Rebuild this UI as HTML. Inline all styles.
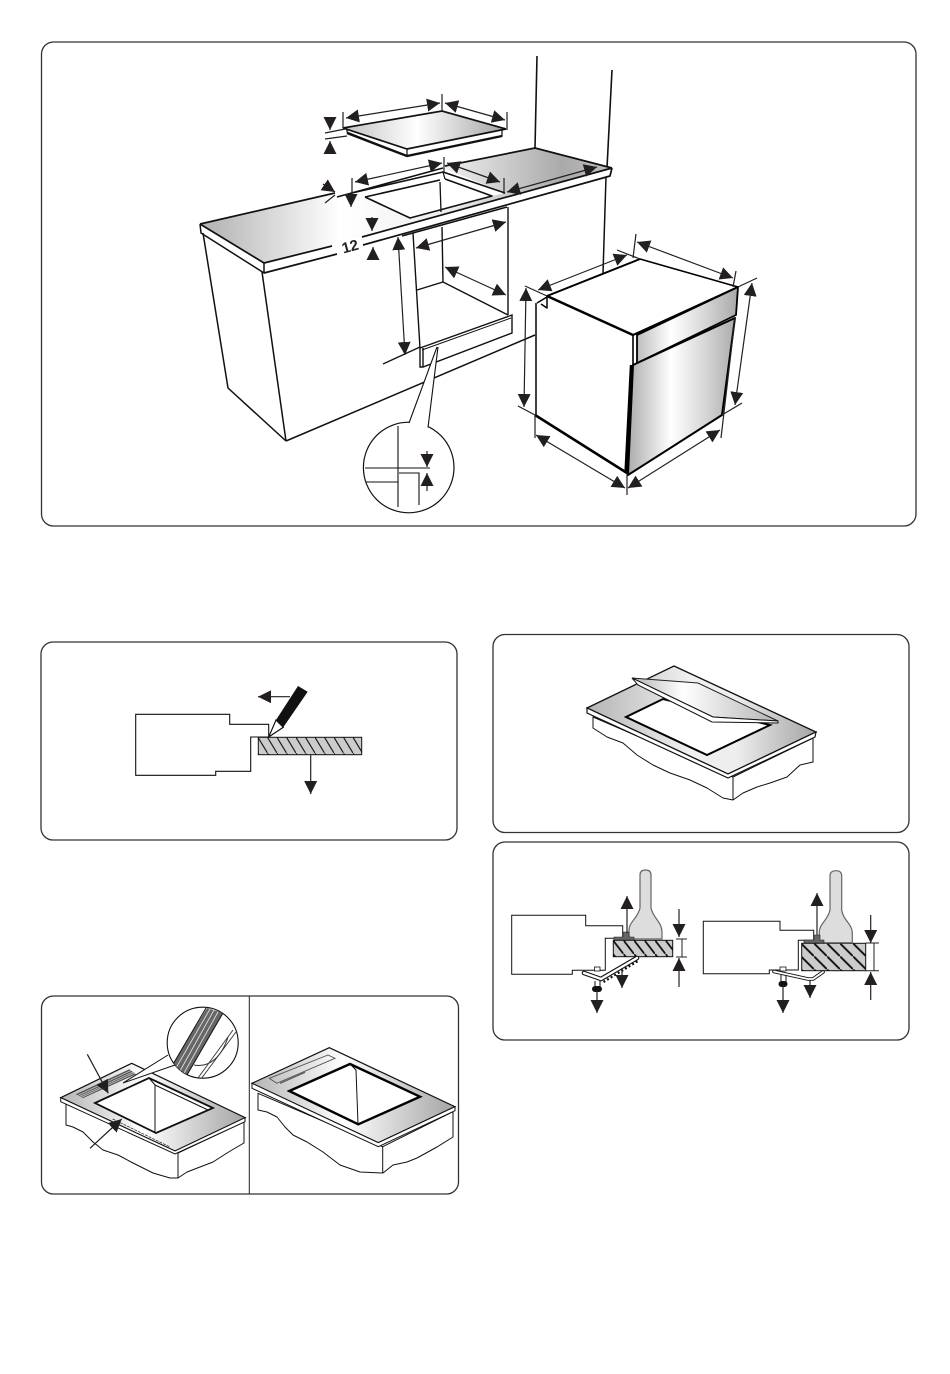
<!DOCTYPE html>
<html><head><meta charset="utf-8"><style>
html,body{margin:0;padding:0;background:#fff}
svg{display:block}
text{font-family:"Liberation Sans",sans-serif}
</style></head><body>
<svg width="950" height="1374" viewBox="0 0 950 1374" xmlns="http://www.w3.org/2000/svg">
<defs>
<marker id="a" viewBox="0 0 12 12" markerUnits="userSpaceOnUse" markerWidth="13" markerHeight="13" refX="12" refY="6" orient="auto-start-reverse"><path d="M0,0L12,6L0,12z" fill="#231f20"/></marker>
<linearGradient id="gw" gradientUnits="userSpaceOnUse" x1="200" y1="0" x2="612" y2="0"><stop offset="0" stop-color="#b0b0b0"/><stop offset=".34" stop-color="#fff"/><stop offset=".6" stop-color="#eee"/><stop offset=".88" stop-color="#aaa"/><stop offset="1" stop-color="#c0c0c0"/></linearGradient>
<linearGradient id="gh" gradientUnits="userSpaceOnUse" x1="345" y1="0" x2="505" y2="0"><stop offset="0" stop-color="#c4c4c4"/><stop offset=".45" stop-color="#fff"/><stop offset="1" stop-color="#a4a4a4"/></linearGradient>
<linearGradient id="gd" gradientUnits="userSpaceOnUse" x1="630" y1="0" x2="738" y2="0"><stop offset="0" stop-color="#b0b0b0"/><stop offset=".38" stop-color="#fff"/><stop offset=".65" stop-color="#ddd"/><stop offset="1" stop-color="#a8a8a8"/></linearGradient>
<linearGradient id="g3" gradientUnits="userSpaceOnUse" x1="587" y1="0" x2="816" y2="0"><stop offset="0" stop-color="#b4b4b4"/><stop offset=".45" stop-color="#f0f0f0"/><stop offset=".65" stop-color="#eee"/><stop offset="1" stop-color="#a4a4a4"/></linearGradient>
<linearGradient id="g3h" gradientUnits="userSpaceOnUse" x1="632" y1="0" x2="778" y2="0"><stop offset="0" stop-color="#b4b4b4"/><stop offset=".35" stop-color="#fff"/><stop offset="1" stop-color="#b4b4b4"/></linearGradient>
<linearGradient id="g5" gradientUnits="userSpaceOnUse" x1="60" y1="0" x2="246" y2="0"><stop offset="0" stop-color="#b4b4b4"/><stop offset=".45" stop-color="#fff"/><stop offset="1" stop-color="#a4a4a4"/></linearGradient>
<linearGradient id="g6" gradientUnits="userSpaceOnUse" x1="252" y1="0" x2="455" y2="0"><stop offset="0" stop-color="#b4b4b4"/><stop offset=".45" stop-color="#fff"/><stop offset="1" stop-color="#a4a4a4"/></linearGradient>
<pattern id="h1" patternUnits="userSpaceOnUse" width="9.5" height="15.8" x="258" y="737.3"><rect width="9.5" height="15.8" fill="#ccc"/><path d="M0,0L9.5,15.8" stroke="#111" stroke-width="1.1" fill="none"/></pattern>
<pattern id="h2" patternUnits="userSpaceOnUse" width="10.5" height="13.6" x="613" y="940.3"><rect width="10.5" height="13.6" fill="#ccc"/><path d="M-1,-1.3L11.5,14.9" stroke="#111" stroke-width="1.8" fill="none"/></pattern>
<pattern id="h3" patternUnits="userSpaceOnUse" width="13" height="13" x="801" y="943.3"><rect width="13" height="13" fill="#ccc"/><path d="M-1,-1L14,14" stroke="#111" stroke-width="1.9" fill="none"/></pattern>
<clipPath id="cc"><circle cx="202.7" cy="1042.7" r="35.5"/></clipPath>
</defs>

<g fill="#fff" stroke="#333" stroke-width="1.3">
<rect x="41.5" y="42" width="874.5" height="484" rx="12"/>
<rect x="41" y="642" width="416" height="198" rx="12"/>
<rect x="493" y="634.5" width="416" height="198" rx="12"/>
<rect x="493" y="842" width="416" height="198" rx="12"/>
<rect x="41.5" y="996" width="417" height="198" rx="12"/>
</g>
<path d="M249.3,996V1194" stroke="#222" stroke-width="1"/>

<!-- PANEL 1 : worktop -->
<g fill="none" stroke="#111" stroke-linejoin="round">
<path d="M537,56L535,148M612,70L607,168" stroke-width="1.6"/>
<path d="M606,177L603,273M203,233L228,388L286,441M262,272L286,441M286,441L535,335" stroke-width="1.5"/>
<path d="M200,224L335,193L337,197L443,168L535,148L612,168L264,263Z" fill="url(#gw)" stroke="none"/>
<path d="M200,224L335,193M445,166L535,148L612,168M200,224L264,263" stroke-width="1.7"/>
<path d="M337,197L443,168L505,193L492,196L410,218L365,197L352,196Z" fill="#fff" stroke="none"/>
<path d="M337,197L443,168M352,193L443,172L505,193M365,197L440,180M445,179L492,196L410,218L365,197" stroke-width="1.6"/>
<path d="M443,172L445,179" stroke-width="1.2"/>
<path d="M440,182L441,212" stroke-width="1.3"/>
<path d="M200,224L201,233L264,273V263" stroke-width="1.5"/>
<path d="M264,263L332,246M362,237L612,168M612,168L610,176L363,245M337,254L264,273" stroke-width="1.7"/>
<path d="M402,236L507,207" stroke-width="1.6"/>
</g>
<text x="350" y="251.5" font-size="15" font-weight="bold" fill="#222" text-anchor="middle" transform="rotate(-15 350 246)">12</text>

<!-- cavity -->
<g fill="none" stroke="#111" stroke-width="1.4">
<path d="M413,233L420,348M508,207V315M442,227L443,282M417,290L443,282L508,315"/>
<path d="M420,348L512,315V333L423,367H420V348M423,348V367"/>
<path d="M422,350L511,318" stroke-width="1"/>
<path d="M383,364L420,347" stroke-width="1.3"/>
</g>
<circle cx="408.7" cy="467.5" r="45.3" fill="#fff" stroke="#111" stroke-width="1.2"/>
<path d="M409,422.8L437,347L438,347L428,427.5Z" fill="#fff" stroke="none"/>
<path d="M409,423L437,347M438,347L428,427.5" fill="none" stroke="#111" stroke-width="1.1"/>
<path d="M398,426V507M365,468H430M399,473H419V505M366,482H398" fill="none" stroke="#111" stroke-width="1.1"/>

<!-- hob -->
<path d="M347,132L407,156L502,136V130L347,130Z" fill="#fff" stroke="#111" stroke-width="1.2"/>
<path d="M347,133L407,156L502,136" fill="none" stroke="#111" stroke-width="2.4"/>
<path d="M343,128L442,111L506,129L407,149Z" fill="url(#gh)" stroke="#111" stroke-width="1.7"/>
<path d="M407,149V155" stroke="#111" stroke-width="1.2"/>

<!-- oven -->
<g stroke="#000" stroke-linejoin="round">
<path d="M536,304L535,415L627,473L633,335L547,296Z" fill="#fff" stroke="none"/>
<path d="M547,296L640,259L738,287L633,335Z" fill="#fff" stroke-width="1.6"/>
<path d="M536,303V415" fill="none" stroke-width="1.5"/>
<path d="M547,296L633,335M535,415L627,473" fill="none" stroke-width="2.6"/>
<path d="M547,296L640,259" fill="none" stroke-width="1.9"/>
<path d="M633,335L738,287" fill="none" stroke-width="2"/>
<path d="M637,335L738,287L736,315L637,363Z" fill="url(#gd)" stroke-width="1.8"/>
<path d="M633,365L735,318L722,415L628,475Z" fill="url(#gd)" stroke-width="2"/>
<path d="M633,335V365" fill="none" stroke-width="1.6"/>
<path d="M631.5,365L626,473" fill="none" stroke-width="3.4"/>
<path d="M537,303L547,297V308L541,304" fill="#fff" stroke-width="1.5"/>
</g>

<!-- dims top -->
<g fill="none" stroke="#231f20" stroke-width="1.2">
<path d="M343,112V128M442,94V111M507,112V130M325,133L345,129M325,139L347,136"/>
<path d="M352,178V195M444,157V172M504,178V194M325,203L335,195"/>
<path d="M636,234L633,258M617,250L640,259M736,271L733,287M757,278L738,287M742,403L722,415M518,406L535,415M525,286L547,296M535,438V415M627,495V473M721,438L735,318"/>
<path d="M346,118L440,103" marker-start="url(#a)" marker-end="url(#a)"/>
<path d="M445,103L505,120" marker-start="url(#a)" marker-end="url(#a)"/>
<path d="M330,117V130" marker-end="url(#a)"/>
<path d="M330,154V141" marker-end="url(#a)"/>
<path d="M355,182L442,163" marker-start="url(#a)" marker-end="url(#a)"/>
<path d="M447,163L500,182" marker-start="url(#a)" marker-end="url(#a)"/>
<path d="M507,192L597,167" marker-start="url(#a)" marker-end="url(#a)"/>
<path d="M351,195V207" marker-end="url(#a)"/>
<path d="M323,184L335,192" marker-end="url(#a)"/>
<path d="M372,217V231" marker-end="url(#a)"/>
<path d="M373,260V247" marker-end="url(#a)"/>
<path d="M398,237L405,355" marker-start="url(#a)" marker-end="url(#a)"/>
<path d="M416,248L506,222" marker-start="url(#a)" marker-end="url(#a)"/>
<path d="M445,267L506,295" marker-start="url(#a)" marker-end="url(#a)"/>
<path d="M538,290L627,255" marker-start="url(#a)" marker-end="url(#a)"/>
<path d="M637,242L733,278" marker-start="url(#a)" marker-end="url(#a)"/>
<path d="M752,283L735,405" marker-start="url(#a)" marker-end="url(#a)"/>
<path d="M526,288L524,407" marker-start="url(#a)" marker-end="url(#a)"/>
<path d="M536,435L625,488" marker-start="url(#a)" marker-end="url(#a)"/>
<path d="M628,488L720,430" marker-start="url(#a)" marker-end="url(#a)"/>
<path d="M427,451V467" marker-end="url(#a)"/>
<path d="M427,491V473" marker-end="url(#a)"/>
</g>

<!-- PANEL 2 -->
<path d="M135.7,714.3H229.7V724.3H268.7V737H250.7V771.3H215.7V775.3H135.7Z" fill="#fff" stroke="#111" stroke-width="1.1"/>
<rect x="258.3" y="737.3" width="103.4" height="17.4" fill="url(#h1)" stroke="#111" stroke-width="1"/>
<g fill="none" stroke="#231f20" stroke-width="1.2">
<path d="M310.7,754.7V794" marker-end="url(#a)"/>
<path d="M290,696.7H258" marker-end="url(#a)"/>
</g>
<path d="M298,686L307.7,691.7L283.3,727.3L276,720Z" fill="#111"/>
<path d="M276,720L283.3,727.3L268.7,737Z" fill="#fff" stroke="#111" stroke-width="1.2"/>

<!-- PANEL 3 -->
<path d="M593,717V728L607,737L623,743L637,755L653,765L670,773L690,780L707,788L723,798L733,800L743,793L757,787L770,783L787,777L800,765L813,762V738L733,777Z" fill="#fff" stroke="#111" stroke-width="1" stroke-linejoin="round"/>
<path d="M733,777V800" stroke="#111" stroke-width="1"/>
<path d="M587,708L674,666L816,732L728,774Z" fill="url(#g3)" stroke="#111" stroke-width="1.3"/>
<path d="M587,708V713L728,778L815,737L816,732L728,774Z" fill="#fff" stroke="#111" stroke-width="1.2"/>
<path d="M626,717L663,699L770,725L707,755Z" fill="#fff" stroke="#000" stroke-width="2"/>
<path d="M632,678L698,683L778,721L713,717Z" fill="url(#g3h)" stroke="#222" stroke-width="1"/>
<path d="M632,678L638,685L712,722L778,723L778,721L713,717Z" fill="#fff" stroke="#111" stroke-width="1"/>

<!-- PANEL 4 -->
<g fill="#fff" stroke="#111" stroke-width="1">
<path d="M511.7,915.3H585.7V925.7H622.7V938.3H605.3V970.3H572.3V974.3H511.7Z"/>
<path d="M703.3,921.3H780V930.3H813.7V940.3H798.3V970H769.3V973.7H703.3Z"/>
</g>
<rect x="613.3" y="940.3" width="59.4" height="16.4" fill="url(#h2)" stroke="#111" stroke-width="1"/>
<rect x="801.7" y="943.3" width="64" height="27.4" fill="url(#h3)" stroke="#111" stroke-width="1"/>
<path d="M640,875Q640,870 645.5,870Q651,870 651,875V908C653,918 662,922 662,932V939H629V930C629,922 638,918 640,908Z" fill="#ddd" stroke="#666" stroke-width="1.2"/>
<path d="M830,876Q830,870.7 836,870.7Q841.7,870.7 841.7,876V910C843,920 852.3,924 852.3,933V942.7H819.3V932C819.3,924 828,920 830,910Z" fill="#ddd" stroke="#666" stroke-width="1.2"/>
<path d="M614,937H623V932H629V937H634V940H614Z" fill="#666" stroke="#222" stroke-width=".6"/>
<path d="M804,940H814V935H820V940H824V943H804Z" fill="#666" stroke="#222" stroke-width=".6"/>
<path d="M603.5,982L638,961" fill="none" stroke="#111" stroke-width="2.2" stroke-dasharray="2 2.2"/>
<path d="M584,973L601,979L637,958" fill="none" stroke="#111" stroke-width="4.6" stroke-linecap="round" stroke-linejoin="round"/>
<path d="M584,973L601,979L637,958" fill="none" stroke="#fff" stroke-width="2.4" stroke-linecap="round" stroke-linejoin="round"/>
<path d="M774,971.5L808,979H813L823,972" fill="none" stroke="#111" stroke-width="3.6" stroke-linecap="round" stroke-linejoin="round"/>
<path d="M774,971.5L808,979H813L823,972" fill="none" stroke="#fff" stroke-width="1.8" stroke-linecap="round" stroke-linejoin="round"/>
<rect x="594.5" y="967" width="5.5" height="4" fill="#fff" stroke="#111" stroke-width=".8"/>
<rect x="780" y="967" width="6" height="4" fill="#fff" stroke="#111" stroke-width=".8"/>
<path d="M595,981V987M600,981V987M781,975V982M786,975V982" stroke="#111" stroke-width="1"/>
<rect x="592" y="986" width="10" height="6" rx="3" fill="#111"/>
<rect x="778.5" y="981" width="9" height="6" rx="3" fill="#111"/>
<g fill="none" stroke="#231f20" stroke-width="1.2">
<path d="M627,933V896" marker-end="url(#a)"/>
<path d="M817,935V893" marker-end="url(#a)"/>
<path d="M679,909V937" marker-end="url(#a)"/>
<path d="M679,987V958" marker-end="url(#a)"/>
<path d="M870.7,915V943" marker-end="url(#a)"/>
<path d="M870.7,1000V972" marker-end="url(#a)"/>
<path d="M597,990V1013" marker-end="url(#a)"/>
<path d="M622,968V988" marker-end="url(#a)"/>
<path d="M810,980V998" marker-end="url(#a)"/>
<path d="M783,985V1013" marker-end="url(#a)"/>
<path d="M676,939H687M676,957H687M682,939V957M866,943H879M866,970.7H879M874,943V970.7" stroke-width="1"/>
</g>

<!-- PANEL 5 left -->
<path d="M66,1104V1125L73,1127L83,1132L93,1142L103,1150L118,1155L133,1163L153,1173L170,1178L178,1178L187,1172L200,1167L213,1162L227,1153L237,1147L244,1143V1122L178,1153Z" fill="#fff" stroke="#111" stroke-width="1" stroke-linejoin="round"/>
<path d="M178,1153V1178" stroke="#111" stroke-width="1"/>
<path d="M60.7,1097.7L131.7,1063.3L245.3,1117.7L175,1151Z" fill="url(#g5)" stroke="#111" stroke-width="1.2"/>
<path d="M60.7,1097.7V1101.7L175,1154L245,1121.7V1117.7L175,1151Z" fill="#fff" stroke="#111" stroke-width="1"/>
<path d="M95,1103L149,1078L213,1108L156,1133Z" fill="#fff" stroke="#111" stroke-width="1.8"/>
<path d="M155,1085V1133M155,1085L208,1110M149,1078L155,1085" fill="none" stroke="#111" stroke-width="1"/>
<path d="M75.7,1094.3L129.3,1069.3L136,1074.3L82.7,1098.3Z" fill="#555"/>
<path d="M77.5,1095.5L131,1070.5M79.5,1096.5L133,1072M81,1097.5L134.5,1073" stroke="#ccc" stroke-width=".7"/>
<path d="M123,1083L168,1055L175,1065L153,1073Z" fill="#fff" stroke="none"/>
<path d="M123,1083L168,1055M123,1083L175,1065" stroke="#111" stroke-width="1" fill="none"/>
<path d="M112.7,1119L170,1147" stroke="#222" stroke-width=".7" stroke-dasharray="3 1"/>
<circle cx="202.7" cy="1042.7" r="35.5" fill="#fff" stroke="#111" stroke-width="1.1"/>
<g clip-path="url(#cc)">
<path d="M207,1008L223,1013L187,1075L172,1065Z" fill="#666"/>
<path d="M210,1009L176,1068M214,1010L180,1071M218,1012L184,1073" stroke="#ddd" stroke-width=".9"/>
<path d="M206,1008L172,1066M223,1013L187,1075" stroke="#111" stroke-width="1" fill="none"/>
<path d="M236,1032L201,1079M233,1030L198,1078" stroke="#333" stroke-width=".9" fill="none"/>
<path d="M194,1065C210,1068 222,1056 228,1037" stroke="#333" stroke-width="1" fill="none"/>
</g>
<g fill="none" stroke="#231f20" stroke-width="1.2">
<path d="M87.3,1054.3L108.3,1093.3" marker-end="url(#a)"/>
<path d="M90,1148.3L121.7,1119" marker-end="url(#a)"/>
</g>

<!-- PANEL 5 right -->
<path d="M258,1093.3V1110L267,1112L277,1117L285,1127L293,1135L307,1142L323,1152L340,1165L360,1172L383,1173L393,1165L407,1162L417,1158L437,1147L453,1137V1111.7L382.7,1146.7Z" fill="#fff" stroke="#111" stroke-width="1" stroke-linejoin="round"/>
<path d="M382.7,1146.7V1173" stroke="#111" stroke-width="1"/>
<path d="M252,1083.3L329.3,1047.7L455,1106.7L378.3,1142.7Z" fill="url(#g6)" stroke="#111" stroke-width="1.2"/>
<path d="M252,1083.3V1088.3L378.3,1146.7L455,1110.7V1106.7L378.3,1142.7Z" fill="#fff" stroke="#111" stroke-width="1"/>
<path d="M289.3,1091L350,1064L420,1096.7L358.3,1124.3Z" fill="#fff" stroke="#000" stroke-width="2.4"/>
<path d="M350,1064L356,1070L358,1124" fill="none" stroke="#111" stroke-width="1"/>
<path d="M269.3,1078.3L328,1055L335,1058.3L276.7,1083.3Z" fill="none" stroke="#555" stroke-width=".9"/>
<path d="M280,1083.3L305,1072.3" stroke="#555" stroke-width="1.2"/>
</svg>
</body></html>
